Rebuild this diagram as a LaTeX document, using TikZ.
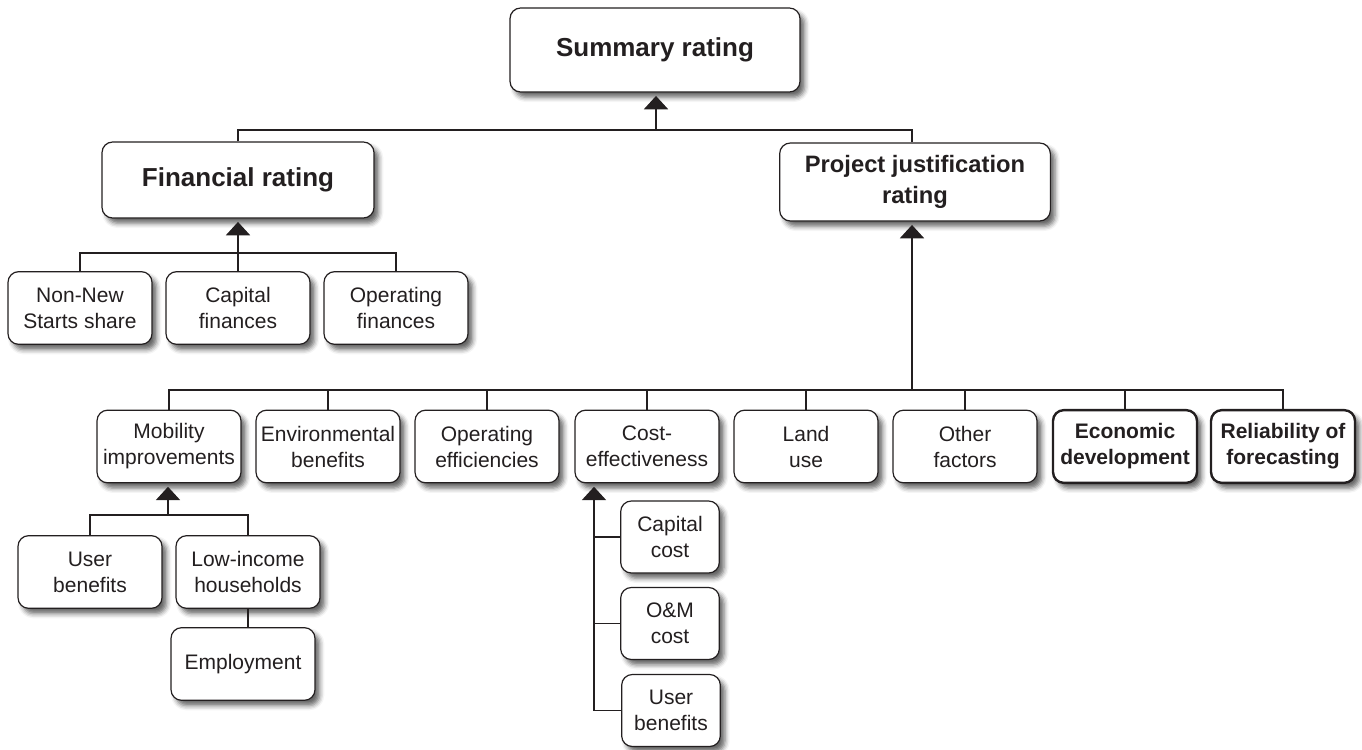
\documentclass[tikz,border=0pt]{standalone}
\usepackage{fontspec}
\setmainfont{Liberation Sans}
\usetikzlibrary{arrows.meta,shadows.blur}
\definecolor{ink}{HTML}{231F20}
\tikzset{
 box/.style={draw=ink, line width=0.9pt, rounded corners=8pt, fill=white, align=center, inner sep=2pt,
   font=\fontsize{15.75}{19.5}\selectfont, text=ink,
   blur shadow={shadow xshift=3.5pt, shadow yshift=-4pt, shadow blur radius=3.5pt, shadow opacity=60}},
 wbox/.style={box, minimum width=108pt, minimum height=54.5pt},
 sbox/.style={box, minimum width=74pt, minimum height=54pt},
 boldbox/.style={wbox, line width=1.8pt, font=\fontsize{15.75}{19.5}\selectfont\bfseries},
 link/.style={draw=ink, line width=1.4pt},
 arr/.style={link, -{Triangle[width=18pt,length=10pt]}, shorten >=2.5pt}
}
\begin{document}
\begin{tikzpicture}[x=0.75pt,y=-0.75pt]
\useasboundingbox (0,0) rectangle (1362,749);
% top level
\node[box, minimum width=217.5pt, minimum height=63pt, font=\fontsize{19.5}{24}\selectfont\bfseries] (sum) at (655,50) {Summary rating};
\node[box, minimum width=204pt, minimum height=57pt, font=\fontsize{19.5}{24}\selectfont\bfseries] (fin) at (238,180) {Financial rating};
\node[box, minimum width=203pt, minimum height=58.5pt, font=\fontsize{17.8}{23}\selectfont\bfseries] (pj) at (915,182) {Project justification\\rating};
% financial children
\node[wbox] (nn) at (80,308) {Non-New\\Starts share};
\node[wbox] (cf) at (238,308) {Capital\\finances};
\node[wbox] (of) at (396,308) {Operating\\finances};
% project justification children
\node[wbox] (mob) at (169,446.5) {Mobility\\improvements};
\node[wbox] (env) at (328,446.5) {Environmental\\benefits};
\node[wbox] (oe)  at (487,446.5) {Operating\\efficiencies};
\node[wbox] (ce)  at (647,446.5) {Cost-\\effectiveness};
\node[wbox] (lu)  at (806,446.5) {Land\\use};
\node[wbox] (ot)  at (965,446.5) {Other\\factors};
\node[boldbox] (ed) at (1125,446.5) {Economic\\development};
\node[boldbox] (rel) at (1283,446.5) {Reliability of\\forecasting};
% mobility children
\node[wbox] (ub) at (90,572) {User\\benefits};
\node[wbox] (li) at (248,572) {Low-income\\households};
\node[wbox] (emp) at (243,664) {Employment};
% cost-effectiveness children
\node[sbox] (cc) at (670,537) {Capital\\cost};
\node[sbox] (om) at (670,623.5) {O\&M\\cost};
\node[sbox] (ub2) at (671,710.5) {User\\benefits};
% junction coordinates
\coordinate (jt) at (656,130);
\coordinate (fj) at (238,253);
\coordinate (pjj) at (912,390);
\coordinate (mj) at (168,515);
\coordinate (cb) at (594,710.5);
% connectors: top
\draw[link] (fin.north) |- (jt) -| (pj.north -| pjj);
\draw[arr] (jt) -- (jt |- sum.south);
% financial
\draw[link] (nn.north) |- (fj) -| (of.north);
\draw[arr] (cf.north) -- (fin.south);
% project justification
\draw[link] (mob.north) |- (pjj) -| (rel.north);
\foreach \n in {env,oe,ce,lu,ot,ed} {\draw[link] (\n.north) -- (\n.north |- pjj);}
\draw[arr] (pjj) -- (pjj |- pj.south);
% mobility
\draw[link] (ub.north) |- (mj) -| (li.north);
\draw[arr] (mj) -- (mj |- mob.south);
\draw[link] (li.south) -- (li.south |- emp.north);
% cost-effectiveness
\draw[link] (ub2.west) -- (cb);
\draw[link] (cc.west) -- (cc.west -| cb);
\draw[link] (om.west) -- (om.west -| cb);
\draw[arr] (cb) -- (cb |- ce.south);
\end{tikzpicture}
\end{document}
